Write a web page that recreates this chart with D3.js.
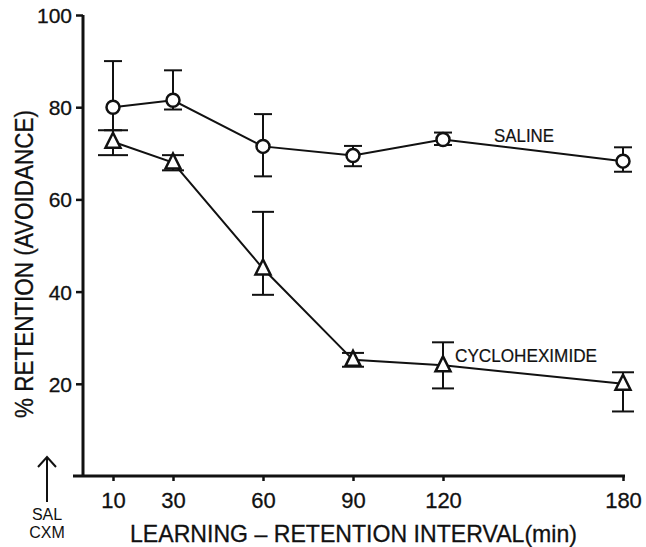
<!DOCTYPE html>
<html>
<head>
<meta charset="utf-8">
<script src="https://cdn.jsdelivr.net/npm/d3@7"></script>
<style>
  body { margin: 0; background: #fff; }
  svg { display: block; font-family: "Liberation Sans", Arial, sans-serif; }
</style>
</head>
<body>
<svg width="646" height="547"></svg>
<script>
// data
const intervals = [10, 30, 60, 90, 120, 180];
const xTicks = [10, 30, 60, 90, 120, 180];
const yTicks = [20, 40, 60, 80, 100];

const salineMean = [80, 81.5, 71.5, 69.5, 73, 68.3];
const salineLow  = [75, 79.5, 65, 67.2, 71.8, 66];
const salineHigh = [90, 88, 78.5, 71.6, 74.5, 71.3];

const cxmMean = [72.5, 68, 45, 25.2, 24, 20];
const cxmLow  = [69.6, 66.3, 39.3, 23.7, 19, 14];
const cxmHigh = [75, 69.6, 57.3, 26.7, 29, 22.5];

const svg = d3.select("svg");
const ink = "#111";

const x = d3.scaleLinear().domain([0, 180]).range([83, 623]);
const y = d3.scaleLinear().domain([0, 100]).range([476, 15]);

// axes
const yAxis = svg.append("g")
  .attr("transform", `translate(${x(0)},0)`)
  .call(d3.axisLeft(y).tickValues(yTicks).tickSize(7).tickSizeOuter(0).tickPadding(4));
yAxis.select(".domain").remove();
yAxis.selectAll("line").attr("stroke", ink).attr("stroke-width", 2.5);
yAxis.selectAll("text")
  .attr("font-size", 21)
  .attr("font-family", "Liberation Sans, Arial, sans-serif")
  .attr("fill", ink)
  .attr("stroke", ink).attr("stroke-width", 0.3)
  .attr("dy", "0.36em");

svg.append("line")
  .attr("x1", x(0)).attr("x2", x(0))
  .attr("y1", y(100)).attr("y2", y(0) + 1)
  .attr("stroke", ink).attr("stroke-width", 3);

const xAxis = svg.append("g")
  .attr("transform", `translate(0,${y(0)})`)
  .call(d3.axisBottom(x).tickValues(xTicks).tickSize(5).tickSizeOuter(0));
xAxis.select(".domain").remove();
xAxis.selectAll("line").attr("stroke", ink).attr("stroke-width", 2.5);
xAxis.selectAll("text")
  .attr("font-size", 22)
  .attr("font-family", "Liberation Sans, Arial, sans-serif")
  .attr("fill", ink)
  .attr("stroke", ink).attr("stroke-width", 0.3)
  .attr("y", 32)
  .attr("dy", 0);

svg.append("line")
  .attr("x1", x(0) - 10).attr("x2", x(180) + 2)
  .attr("y1", y(0)).attr("y2", y(0))
  .attr("stroke", ink).attr("stroke-width", 3);

// axis titles
svg.append("text")
  .attr("x", 130).attr("y", 542)
  .attr("font-size", 24)
  .attr("fill", ink)
  .attr("stroke", ink).attr("stroke-width", 0.3)
  .attr("textLength", 447)
  .attr("lengthAdjust", "spacingAndGlyphs")
  .text("LEARNING – RETENTION  INTERVAL(min)");

svg.append("text")
  .attr("transform", "translate(33,418) rotate(-90)")
  .attr("font-size", 25)
  .attr("fill", ink)
  .attr("stroke", ink).attr("stroke-width", 0.3)
  .attr("textLength", 308)
  .attr("lengthAdjust", "spacingAndGlyphs")
  .text("% RETENTION (AVOIDANCE)");

// injection marker
svg.append("line")
  .attr("x1", 47).attr("x2", 47).attr("y1", 458).attr("y2", 502)
  .attr("stroke", ink).attr("stroke-width", 2);
svg.append("path")
  .attr("d", "M38,467L47,457L56,467")
  .attr("fill", "none").attr("stroke", ink).attr("stroke-width", 2);
svg.append("text").attr("x", 47).attr("y", 520).attr("text-anchor", "middle")
  .attr("font-size", 16).attr("fill", ink).text("SAL");
svg.append("text").attr("x", 47).attr("y", 538).attr("text-anchor", "middle")
  .attr("font-size", 16).attr("fill", ink).text("CXM");

// series
const series = [
  { name: "SALINE", mean: salineMean, low: salineLow, high: salineHigh, shape: "circle", cap: 9 },
  { name: "CYCLOHEXIMIDE", mean: cxmMean, low: cxmLow, high: cxmHigh, shape: "triangle", cap: 11 }
];

const line = d3.line().x(d => x(d.t)).y(d => y(d.v));

series.forEach(s => {
  const pts = intervals.map((t, i) => ({ t, v: s.mean[i], lo: s.low[i], hi: s.high[i] }));
  const g = svg.append("g");

  // error bars
  pts.forEach((d, i) => {
    const cap = (s.shape === "triangle" && i === 0) ? 15 : s.cap;
    g.append("line")
      .attr("x1", x(d.t)).attr("x2", x(d.t))
      .attr("y1", y(d.lo)).attr("y2", y(d.hi))
      .attr("stroke", ink).attr("stroke-width", 2);
    [d.lo, d.hi].forEach(v => {
      if (v === d.v) return;
      g.append("line")
        .attr("x1", x(d.t) - cap).attr("x2", x(d.t) + cap)
        .attr("y1", y(v)).attr("y2", y(v))
        .attr("stroke", ink).attr("stroke-width", 2);
    });
  });

  g.append("path")
    .datum(pts)
    .attr("d", line)
    .attr("fill", "none")
    .attr("stroke", ink)
    .attr("stroke-width", 2);

  if (s.shape === "circle") {
    g.selectAll("circle").data(pts).enter().append("circle")
      .attr("cx", d => x(d.t)).attr("cy", d => y(d.v))
      .attr("r", 6.5)
      .attr("fill", "#fff").attr("stroke", ink).attr("stroke-width", 2.5);
  } else {
    g.selectAll("path.tri").data(pts).enter().append("path")
      .attr("class", "tri")
      .attr("transform", d => `translate(${x(d.t)},${y(d.v)})`)
      .attr("d", "M0,-9L7.5,6L-7.5,6Z")
      .attr("fill", "#fff").attr("stroke", ink).attr("stroke-width", 2.5);
  }
});

// series labels
svg.append("text")
  .attr("x", x(137)).attr("y", y(72.5))
  .attr("font-size", 18).attr("fill", ink)
  .attr("stroke", ink).attr("stroke-width", 0.2)
  .attr("textLength", 60).attr("lengthAdjust", "spacingAndGlyphs")
  .text("SALINE");

svg.append("text")
  .attr("x", x(124)).attr("y", y(24.8))
  .attr("font-size", 18).attr("fill", ink)
  .attr("stroke", ink).attr("stroke-width", 0.2)
  .attr("textLength", 142).attr("lengthAdjust", "spacingAndGlyphs")
  .text("CYCLOHEXIMIDE");
</script>
</body>
</html>
